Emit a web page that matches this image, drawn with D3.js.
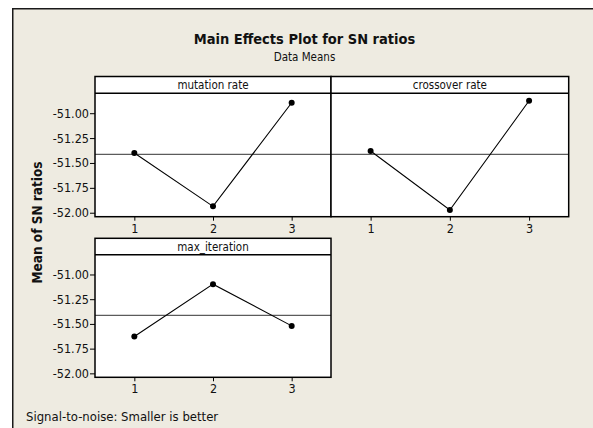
<!DOCTYPE html>
<html>
<head>
<meta charset="utf-8">
<script src="https://cdn.jsdelivr.net/npm/d3@7"></script>
<style>
  html, body { margin: 0; padding: 0; background: #fff; }
  svg { display: block; }
  text { font-family: Tahoma, "DejaVu Sans Condensed", "DejaVu Sans", sans-serif; fill: #111; }
</style>
</head>
<body>
<script>
// values
const factors = ["mutation rate", "crossover rate", "max_iteration"];
const levels = [1, 2, 3];
const mutationRate = [-51.40, -51.936, -50.895];
const crossoverRate = [-51.38, -51.973, -50.875];
const maxIteration = [-51.628, -51.098, -51.52];
const grandMean = -51.413;
const yTicks = [-51.00, -51.25, -51.50, -51.75, -52.00];

const series = [mutationRate, crossoverRate, maxIteration];

const width = 593, height = 428;

// minitab prints a plain hyphen, not the unicode minus d3.format gives
const fmtY = d => d.toFixed(2);

const svg = d3.select("body").append("svg")
  .attr("width", width)
  .attr("height", height);

// outer frame
svg.append("rect")
  .attr("x", 12).attr("y", 8)
  .attr("width", width).attr("height", height)
  .attr("fill", "#eeebe1");
svg.append("path")
  .attr("d", `M12.75,${height}V8.75H${width}`)
  .attr("fill", "none")
  .attr("stroke", "#1a1a1a")
  .attr("stroke-width", 1.5);

svg.append("text")
  .attr("x", 304.5).attr("y", 44)
  .attr("text-anchor", "middle")
  .attr("font-size", 14.5)
  .attr("font-weight", "bold")
  .text("Main Effects Plot for SN ratios");

svg.append("text")
  .attr("x", 304.5).attr("y", 61)
  .attr("text-anchor", "middle")
  .attr("font-size", 11.5)
  .text("Data Means");

svg.append("text")
  .attr("transform", "translate(42,222.5) rotate(-90)")
  .attr("text-anchor", "middle")
  .attr("font-size", 13.5)
  .attr("font-weight", "bold")
  .text("Mean of SN ratios");

svg.append("text")
  .attr("x", 26).attr("y", 420.5)
  .attr("font-size", 13)
  .text("Signal-to-noise: Smaller is better");

// panel boxes: left, right, top, header bottom, bottom
const panels = [
  { x0: 95, x1: 331, top: 76.5, head: 93.3, bottom: 216.7, yAxis: true },
  { x0: 331, x1: 568.7, top: 76.5, head: 93.3, bottom: 216.7, yAxis: false },
  { x0: 95, x1: 331, top: 238.3, head: 254.7, bottom: 377.3, yAxis: true }
];

const yDomain = [-52.04, -50.80];

panels.forEach((p, i) => {
  const g = svg.append("g");
  const x = d3.scaleLinear().domain([0.5, 3.5]).range([p.x0, p.x1]);
  const y = d3.scaleLinear().domain(yDomain).range([p.bottom, p.head]);

  g.append("rect")
    .attr("x", p.x0).attr("y", p.top)
    .attr("width", p.x1 - p.x0).attr("height", p.bottom - p.top)
    .attr("fill", "#fff");

  // reference line at overall mean
  g.append("line")
    .attr("x1", p.x0).attr("x2", p.x1)
    .attr("y1", y(grandMean)).attr("y2", y(grandMean))
    .attr("stroke", "#333")
    .attr("stroke-width", 1);

  const pts = levels.map((l, j) => [l, series[i][j]]);
  g.append("path")
    .datum(pts)
    .attr("fill", "none")
    .attr("stroke", "#000")
    .attr("stroke-width", 1.1)
    .attr("d", d3.line().x(d => x(d[0])).y(d => y(d[1])));

  g.selectAll("circle")
    .data(pts)
    .join("circle")
    .attr("cx", d => x(d[0]))
    .attr("cy", d => y(d[1]))
    .attr("r", 3)
    .attr("fill", "#000");

  // header strip + border
  g.append("line")
    .attr("x1", p.x0).attr("x2", p.x1)
    .attr("y1", p.head).attr("y2", p.head)
    .attr("stroke", "#000").attr("stroke-width", 1.5);
  g.append("rect")
    .attr("x", p.x0).attr("y", p.top)
    .attr("width", p.x1 - p.x0).attr("height", p.bottom - p.top)
    .attr("fill", "none")
    .attr("stroke", "#000").attr("stroke-width", 1.5);

  g.append("text")
    .attr("x", (p.x0 + p.x1) / 2)
    .attr("y", (p.top + p.head) / 2 + 4)
    .attr("text-anchor", "middle")
    .attr("font-size", 11.5)
    .text(factors[i]);

  const xAxis = g.append("g")
    .attr("transform", `translate(0,${p.bottom})`)
    .call(d3.axisBottom(x).tickValues(levels).tickFormat(d3.format("d")).tickSize(4).tickPadding(3));
  xAxis.select(".domain").remove();
  xAxis.selectAll("text").attr("font-size", 12.5).attr("font-family", null);

  if (p.yAxis) {
    const yAxis = g.append("g")
      .attr("transform", `translate(${p.x0},0)`)
      .call(d3.axisLeft(y).tickValues(yTicks).tickFormat(fmtY).tickSize(5).tickPadding(1));
    yAxis.select(".domain").remove();
    yAxis.selectAll("text").attr("font-size", 12.5).attr("font-family", null);
  }
});
</script>
</body>
</html>
